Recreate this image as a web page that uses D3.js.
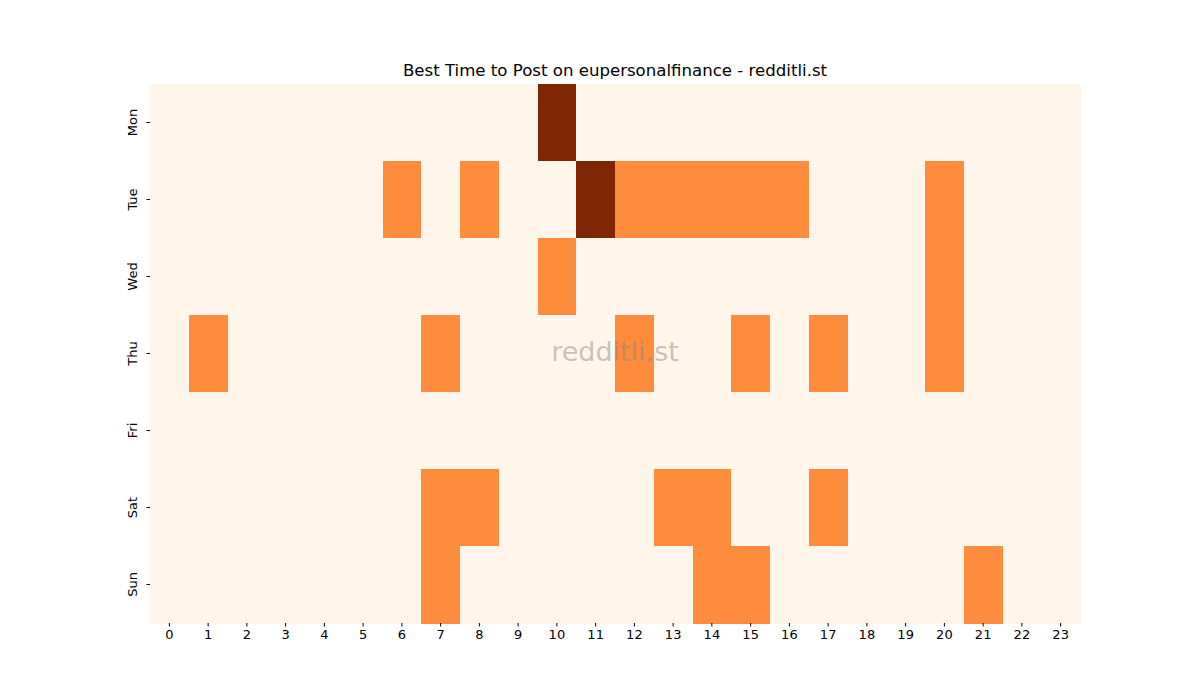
<!DOCTYPE html>
<html><head><meta charset="utf-8">
<script src="https://cdn.jsdelivr.net/npm/d3@7"></script>
<style>body{margin:0;background:#fff;} text{font-family:"DejaVu Sans",sans-serif;}</style>
</head><body><svg id="c" width="1200" height="700"></svg>
<script>
const days = ["Mon","Tue","Wed","Thu","Fri","Sat","Sun"];
const hours = d3.range(24).map(String);
const monVals = [0,0,0,0,0,0,0,0,0,0,2,0,0,0,0,0,0,0,0,0,0,0,0,0];
const tueVals = [0,0,0,0,0,0,1,0,1,0,0,2,1,1,1,1,1,0,0,0,1,0,0,0];
const wedVals = [0,0,0,0,0,0,0,0,0,0,1,0,0,0,0,0,0,0,0,0,1,0,0,0];
const thuVals = [0,1,0,0,0,0,0,1,0,0,0,0,1,0,0,1,0,1,0,0,1,0,0,0];
const friVals = [0,0,0,0,0,0,0,0,0,0,0,0,0,0,0,0,0,0,0,0,0,0,0,0];
const satVals = [0,0,0,0,0,0,0,1,1,0,0,0,0,1,1,0,0,1,0,0,0,0,0,0];
const sunVals = [0,0,0,0,0,0,0,1,0,0,0,0,0,0,1,1,0,0,0,0,0,1,0,0];
const rows = [monVals,tueVals,wedVals,thuVals,friVals,satVals,sunVals];
const title = "Best Time to Post on eupersonalfinance - redditli.st";

const L=150,R=1080,T=84,B=623;
const svg=d3.select("#c");
const x=d3.scaleBand().domain(hours).range([L,R]);
const y=d3.scaleBand().domain(days).range([T,B]);
const color=d3.scaleLinear().domain([0,1,2]).range(["#fff5eb","#fd8d3c","#7f2704"]);
const cells=[];
rows.forEach((r,i)=>r.forEach((v,j)=>cells.push({d:days[i],h:hours[j],v})));
svg.append("g").attr("shape-rendering","crispEdges").selectAll("rect").data(cells).join("rect")
 .attr("x",d=>x(d.h)).attr("y",d=>y(d.d))
 .attr("width",x.bandwidth()+1).attr("height",y.bandwidth()+1)
 .attr("fill",d=>color(d.v));
const xa=svg.append("g").attr("transform",`translate(0,${B})`).call(d3.axisBottom(x).tickSize(3.5).tickPadding(3.5));
const ya=svg.append("g").attr("transform",`translate(${L},0)`).call(d3.axisLeft(y).tickSize(3.5).tickPadding(3.5));
[xa,ya].forEach(a=>{a.select(".domain").remove();a.selectAll("text").attr("font-size","13px").attr("fill","#000").style("font-family","DejaVu Sans");a.selectAll("line").attr("stroke","#000");});
ya.selectAll(".tick text").attr("text-anchor","middle").attr("x",null).attr("dy",null).attr("transform","translate(-13,0) rotate(-90)").attr("y",0);
svg.append("text").attr("x",(L+R)/2).attr("y",76).attr("text-anchor","middle").attr("font-size","16.6px").text(title);
svg.append("text").attr("x",(L+R)/2).attr("y",(T+B)/2+7).attr("text-anchor","middle").attr("font-size","27px").attr("fill","#808080").attr("fill-opacity",0.45).text("redditli.st");
</script></body></html>
